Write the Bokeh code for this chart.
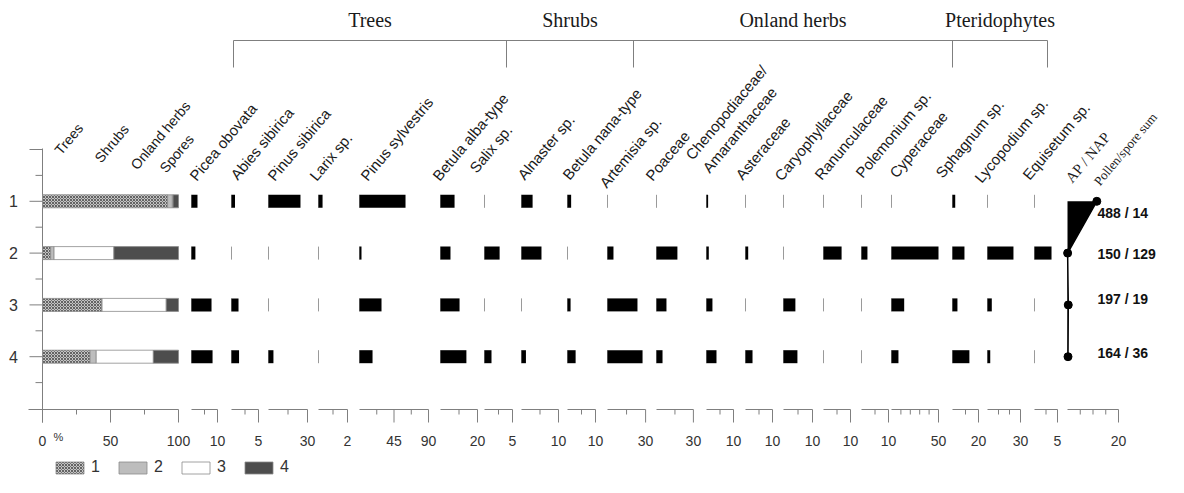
from bokeh.plotting import figure
from bokeh.models import Range1d, ColumnDataSource
from bokeh.core.properties import value
from bokeh.embed import file_html
from bokeh.resources import INLINE

# ---------------- data ----------------
samples = [1, 2, 3, 4]
sample_labels = ["1", "2", "3", "4"]

# summary diagram (%)
trees = [92.0, 6.0, 43.5, 35.0]
shrubs = [3.5, 2.5, 0.3, 4.5]
herbs = [0.5, 44.0, 47.2, 42.0]
spores = [4.0, 47.5, 9.0, 18.5]
summary_names = ["Trees", "Shrubs", "Onland herbs", "Spores"]
legend_labels = ["1", "2", "3", "4"]

# taxa (%)
taxa = ["Picea obovata", "Abies sibirica", "Pinus sibirica", "Larix sp.",
        "Pinus sylvestris", "Betula alba-type", "Salix sp.", "Alnaster sp.",
        "Betula nana-type", "Artemisia sp.", "Poaceae", "Chenopodiaceae/\nAmaranthaceae",
        "Asteraceae", "Caryophyllaceae", "Ranunculaceae", "Polemonium sp.",
        "Cyperaceae", "Sphagnum sp.", "Lycopodium sp.", "Equisetum sp."]
picea = [2.3, 1.5, 7.7, 8.1]
abies = [0.65, 0.0, 1.3, 1.4]
pinus_sibirica = [24.6, 0.0, 0.0, 3.8]
larix = [0.28, 0.0, 0.0, 0.0]
pinus_sylvestris = [60.0, 2.6, 28.7, 17.0]
betula_alba = [7.6, 5.4, 10.3, 14.0]
salix = [0.0, 2.7, 0.0, 1.25]
alnaster = [3.0, 5.4, 0.0, 1.2]
betula_nana = [1.3, 0.0, 1.1, 2.9]
artemisia = [0.0, 4.7, 23.6, 27.6]
poaceae = [0.0, 17.0, 8.1, 4.9]
chenopodiaceae = [0.6, 0.85, 2.2, 3.7]
asteraceae = [0.0, 1.0, 0.0, 2.6]
caryophyllaceae = [0.0, 0.0, 4.1, 4.8]
ranunculaceae = [0.0, 6.7, 0.0, 0.0]
polemonium = [0.0, 2.2, 0.0, 0.0]
cyperaceae = [0.0, 50.0, 13.5, 7.4]
sphagnum = [2.1, 9.2, 3.8, 13.0]
lycopodium = [0.0, 23.6, 3.9, 2.5]
equisetum = [0.0, 3.7, 0.0, 0.0]
taxa_values = [picea, abies, pinus_sibirica, larix, pinus_sylvestris, betula_alba,
               salix, alnaster, betula_nana, artemisia, poaceae, chenopodiaceae,
               asteraceae, caryophyllaceae, ranunculaceae, polemonium, cyperaceae,
               sphagnum, lycopodium, equisetum]

# axis maxima, minor ticks and labelled ticks per taxon
axis_max = [10, 5, 30, 2, 90, 20, 5, 10, 10, 30, 30, 10, 10, 10, 10, 10, 50, 20, 30, 5]
axis_minor = [[5], [2.5], [15], [1], [22.5, 67.5], [10], [2.5], [5], [5], [15], [15], [5],
              [5], [5], [5], [5], [10, 20, 30, 40], [10], [10, 20], [2.5]]
axis_labels = [[10], [5], [30], [2], [45, 90], [20], [5], [10], [10], [30], [30], [10],
               [10], [10], [10], [10], [50], [20], [30], [5]]

ap_nap = [11.5, 0.05, 0.3, 0.2]
ap_nap_max = 20
ap_nap_minor = [5, 10, 15]
pollen_sum = [488, 150, 197, 164]
spore_sum = [14, 129, 19, 36]

groups = ["Trees", "Shrubs", "Onland herbs", "Pteridophytes"]

# ---------------- layout (pixels of the picture) ----------------
W, H = 1168, 477
X_LEFT, X_RIGHT, Y_BOTTOM, Y_TOP = 0, W, H, 0
DEPTH_Y0, DEPTH_STEP = 149.0, 51.8          # pixel y of depth 0 and px per sample
BAR_H = 13 / DEPTH_STEP
AXIS_Y, SHORT_T, LONG_T, TICK_LAB_Y = 409, 414, 422, 440

summary_x0, summary_k = 42, 1.36
panel_x0 = [191, 231, 268, 318, 359, 440, 484, 521, 567, 607, 656, 706, 745, 783,
            823, 861, 891, 952, 987, 1034]
panel_k = [2.6, 5.4, 1.3, 14.5, 0.767, 1.85, 5.6, 3.7, 2.8, 1.27, 1.23, 2.7, 2.7, 2.9,
           2.7, 2.7, 0.94, 1.3, 1.1, 4.6]
apnap_x0, apnap_k = 1067, 2.55

label_pos = [(192, 178), (233, 177), (270, 178), (312, 178), (363, 178), (435, 178),
             (472, 170), (520, 177), (565, 177), (602, 185), (648, 178), (688, 157),
             (738, 177), (777, 178), (817, 177), (858, 175), (892, 175), (938, 175),
             (977, 180), (1025, 177)]
summary_label_pos = [(57, 152), (97, 160), (133, 167), (162, 170)]
bracket_x = [233, 506, 633, 952, 1047]

GREY = "#7f7f7f"
TXT = "#1a1a1a"
SANS = value("Liberation Sans")
SERIF = value("Liberation Serif")

p = figure(width=W, height=H, x_range=Range1d(X_LEFT, X_RIGHT), y_range=Range1d(Y_BOTTOM, Y_TOP),
           output_backend="svg", toolbar_location=None, x_axis_location=None,
           y_axis_location=None, min_border=0)
p.grid.visible = False
p.outline_line_color = None
p.background_fill_color = "white"
p.extra_y_ranges = {"depth": Range1d((Y_BOTTOM - DEPTH_Y0) / DEPTH_STEP,
                                     (Y_TOP - DEPTH_Y0) / DEPTH_STEP)}


def add_range(name, x0, k):
    p.extra_x_ranges[name] = Range1d((X_LEFT - x0) / k, (X_RIGHT - x0) / k)


def mini_axis(name, vmax, minor, labelled, labels_text=None):
    p.segment(x0=[0], x1=[vmax], y0=[AXIS_Y], y1=[AXIS_Y], x_range_name=name,
              line_color=GREY, line_width=1)
    if minor:
        p.segment(x0=minor, x1=minor, y0=[AXIS_Y] * len(minor), y1=[SHORT_T] * len(minor),
                  x_range_name=name, line_color=GREY, line_width=1)
    p.segment(x0=labelled, x1=labelled, y0=[AXIS_Y] * len(labelled), y1=[LONG_T] * len(labelled),
              x_range_name=name, line_color=GREY, line_width=1)
    txt = labels_text if labels_text else [f"{v:g}" for v in labelled]
    p.text(x=labelled, y=[TICK_LAB_Y] * len(labelled), text=txt, x_range_name=name,
           text_align="center", text_baseline="middle", text_font=SANS,
           text_font_size="14px", text_color="#333333")


# ---------------- left depth axis ----------------
p.segment(x0=[summary_x0], x1=[summary_x0], y0=[148], y1=[LONG_T], line_color=GREY, line_width=1)
major_d = [0, 1, 2, 3, 4]
minor_d = [0.5, 1.5, 2.5, 3.5, 4.5]
p.segment(x0=[29] * 5, x1=[summary_x0] * 5, y0=major_d, y1=major_d, y_range_name="depth",
          line_color=GREY, line_width=1)
p.segment(x0=[35] * 5, x1=[summary_x0] * 5, y0=minor_d, y1=minor_d, y_range_name="depth",
          line_color=GREY, line_width=1)
p.text(x=[13] * 4, y=samples, text=sample_labels, y_range_name="depth", text_align="center",
       text_baseline="middle", text_font=SANS, text_font_size="16px", text_color="#333333")

# ---------------- summary diagram ----------------
add_range("summary", summary_x0, summary_k)
src = ColumnDataSource(dict(sample=samples, trees=trees, shrubs=shrubs, herbs=herbs, spores=spores))
p.hbar_stack(["trees", "shrubs", "herbs", "spores"], y="sample", height=BAR_H, source=src,
             x_range_name="summary", y_range_name="depth",
             fill_color=["#c4c4c4", "#bdbdbd", "white", "#4d4d4d"],
             hatch_pattern=["x", " ", " ", " "], hatch_color="#4a4a4a", hatch_scale=3,
             hatch_weight=0.8, line_color="#8c8c8c", line_width=0.8,
             legend_label=legend_labels)
p.segment(x0=[28], x1=[summary_x0], y0=[AXIS_Y], y1=[AXIS_Y], line_color=GREY, line_width=1)
mini_axis("summary", 100, [25, 75], [0, 50, 100])
p.text(x=[58], y=[436], text=["%"], text_align="center", text_baseline="middle",
       text_font=SANS, text_font_size="11px", text_color="#333333")
p.text(x=[q[0] for q in summary_label_pos], y=[q[1] for q in summary_label_pos],
       text=summary_names, angle=50, angle_units="deg", text_align="left",
       text_baseline="alphabetic", text_font=SANS, text_font_size="14px", text_color=TXT)

# ---------------- taxa panels ----------------
for i, (name, vals) in enumerate(zip(taxa, taxa_values)):
    rname = f"t{i}"
    add_range(rname, panel_x0[i], panel_k[i])
    zeros = [0] * len(samples)
    p.segment(x0=zeros, x1=zeros, y0=[s - BAR_H / 2 for s in samples],
              y1=[s + BAR_H / 2 for s in samples], x_range_name=rname, y_range_name="depth",
              line_color="#9a9a9a", line_width=1)
    p.hbar(y=samples, left=zeros, right=vals, height=BAR_H, x_range_name=rname,
           y_range_name="depth", fill_color="black", line_color=None)
    mini_axis(rname, axis_max[i], axis_minor[i], axis_labels[i])

# rotated taxa labels
lab_x, lab_y, lab_t = [], [], []
for (x, y), t in zip(label_pos, taxa):
    lines = t.split("\n")
    lab_x.append(x); lab_y.append(y); lab_t.append(lines[0])
    if len(lines) > 1:
        lab_x.append(x + 17); lab_y.append(y + 13); lab_t.append(lines[1])
p.text(x=lab_x, y=lab_y, text=lab_t, angle=50, angle_units="deg", text_align="left",
       text_baseline="alphabetic", text_font=SANS, text_font_size="15px", text_color=TXT)

# ---------------- AP / NAP ----------------
add_range("apnap", apnap_x0, apnap_k)
p.harea(y=samples, x1=[0] * 4, x2=ap_nap, x_range_name="apnap", y_range_name="depth",
        fill_color="black")
p.line(x=ap_nap, y=samples, x_range_name="apnap", y_range_name="depth", line_color="black",
       line_width=1.5)
p.scatter(x=ap_nap, y=samples, x_range_name="apnap", y_range_name="depth", size=8,
          fill_color="black", line_color="black")
mini_axis("apnap", ap_nap_max, ap_nap_minor, [ap_nap_max])
p.text(x=[1068], y=[180], text=["AP / NAP"], angle=50,
       angle_units="deg", text_align="left", text_baseline="alphabetic", text_font=SERIF,
       text_font_size="15px", text_color=TXT)
p.text(x=[1096], y=[183], text=["Pollen/spore sum"], angle=50,
       angle_units="deg", text_align="left", text_baseline="alphabetic", text_font=SERIF,
       text_font_size="13px", text_color=TXT)

# pollen / spore sums
p.text(x=[1097] * 4, y=samples, text=[f"{a} / {b}" for a, b in zip(pollen_sum, spore_sum)],
       y_offset=[12, 1, -6, -4], y_range_name="depth", text_align="left",
       text_baseline="middle", text_font=SANS, text_font_size="14px",
       text_font_style="bold", text_color="#111111")

# ---------------- group brackets ----------------
p.segment(x0=[bracket_x[0]], x1=[bracket_x[-1]], y0=[40], y1=[40], line_color=GREY, line_width=1)
p.segment(x0=bracket_x, x1=bracket_x, y0=[40] * 5, y1=[67] * 5, line_color=GREY, line_width=1)
p.text(x=[(a + b) / 2 for a, b in zip(bracket_x[:-1], bracket_x[1:])], y=[19] * 4, text=groups,
       text_align="center", text_baseline="middle", text_font=SERIF, text_font_size="20px",
       text_color=TXT)

# ---------------- legend ----------------
leg = p.legend[0]
leg.orientation = "horizontal"
leg.location = (52, 1)
leg.glyph_width = 35
leg.glyph_height = 15
leg.label_standoff = 4
leg.label_width = 9
leg.spacing = 15
leg.padding = 0
leg.margin = 0
leg.border_line_alpha = 0
leg.background_fill_alpha = 0
leg.label_text_font = "Liberation Sans"
leg.label_text_font_size = "16px"
leg.label_text_color = "#333333"

open("out.html", "w").write(file_html(p, INLINE))
